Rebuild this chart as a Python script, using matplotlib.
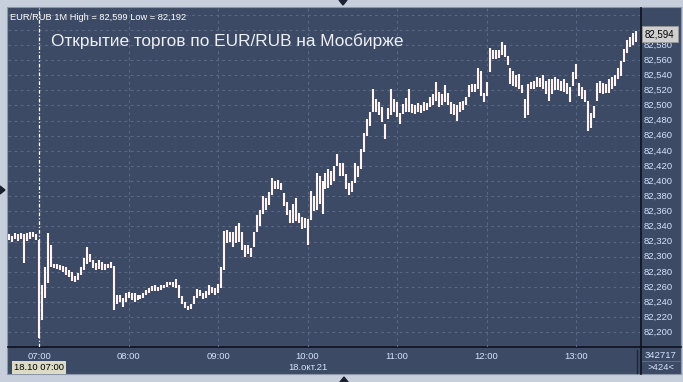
import numpy as np
import matplotlib
matplotlib.use('Agg')
import matplotlib.pyplot as plt
from matplotlib.colors import LinearSegmentedColormap
from matplotlib.patches import Rectangle, Polygon

plt.rcParams['font.family'] = ['Liberation Sans', 'DejaVu Sans']

# EUR/RUB, 18.10.2021, bars every 2 minutes, minutes counted from 07:00
bar_minutes = np.arange(-20, 401, 2)
low_pts = [322, 320, 323, 321, 324, 292, 321, 324, 326, 322,
           192, 216, 245, 265, 287, 285, 284, 282, 280, 276,
           273, 268, 266, 269, 276, 283, 290, 293, 285, 282,
           284, 283, 283, 285, 285, 230, 238, 240, 233, 240,
           245, 243, 240, 243, 244, 246, 250, 252, 254, 254,
           254, 256, 258, 260, 262, 260, 258, 246, 238, 232,
           230, 231, 238, 245, 248, 244, 246, 250, 252, 250,
           252, 258, 282, 318, 320, 313, 318, 320, 309, 300,
           303, 300, 313, 333, 340, 356, 362, 368, 382, 389,
           389, 388, 367, 355, 344, 345, 347, 344, 336, 338,
           316, 349, 360, 362, 370, 356, 389, 391, 395, 400,
           420, 407, 407, 390, 382, 386, 398, 405, 416, 438,
           460, 473, 491, 491, 487, 478, 456, 482, 487, 491,
           485, 476, 489, 491, 491, 490, 489, 491, 490, 493,
           494, 498, 500, 506, 498, 500, 504, 500, 489, 487,
           480, 492, 494, 500, 511, 518, 518, 522, 513, 504,
           513, 544, 562, 562, 563, 567, 564, 553, 529, 526,
           524, 522, 516, 484, 487, 522, 522, 524, 525, 522,
           515, 506, 515, 521, 521, 519, 518, 515, 504, 526,
           535, 512, 508, 504, 466, 470, 484, 506, 517, 515,
           517, 517, 522, 526, 535, 539, 557, 570, 577, 580,
           584]
high_pts = [330, 328, 331, 330, 332, 330, 331, 333, 333, 330,
            322, 262, 287, 331, 315, 291, 290, 289, 288, 286,
            283, 280, 275, 279, 286, 298, 313, 303, 296, 292,
            295, 293, 290, 291, 293, 288, 250, 250, 245, 252,
            253, 252, 252, 249, 250, 252, 256, 258, 261, 262,
            260, 262, 263, 266, 267, 266, 270, 262, 248, 240,
            235, 237, 248, 257, 256, 252, 255, 262, 260, 258,
            264, 287, 334, 335, 333, 333, 340, 344, 333, 316,
            315, 312, 333, 355, 362, 380, 378, 385, 404, 400,
            402, 398, 384, 372, 362, 370, 378, 358, 353, 351,
            350, 387, 380, 411, 407, 400, 411, 416, 414, 420,
            436, 424, 424, 410, 398, 400, 424, 420, 442, 464,
            482, 491, 522, 509, 505, 498, 476, 496, 522, 509,
            505, 490, 502, 510, 522, 502, 500, 503, 500, 504,
            503, 511, 515, 531, 518, 515, 527, 516, 505, 502,
            500, 505, 506, 511, 527, 529, 528, 549, 545, 516,
            531, 576, 573, 574, 573, 584, 580, 566, 549, 545,
            540, 542, 527, 509, 529, 531, 532, 538, 536, 540,
            532, 535, 535, 537, 535, 532, 535, 530, 524, 544,
            555, 530, 524, 520, 506, 490, 499, 530, 533, 530,
            528, 535, 537, 540, 550, 559, 575, 586, 590, 596,
            599]
lows = 82 + np.array(low_pts) / 1000
highs = 82 + np.array(high_pts) / 1000

hour_minutes = [0, 60, 120, 180, 240, 300, 360]
hour_labels = ['07:00', '08:00', '09:00', '10:00', '11:00', '12:00', '13:00']
price_levels = np.arange(82200, 82601, 20) / 1000
last_price = 82.594

W, H = 683, 382
fig = plt.figure(figsize=(W / 100, H / 100), dpi=100)
fig.patch.set_facecolor('#c6cfdb')

# pixel-space background layer
bg = fig.add_axes([0, 0, 1, 1])
bg.set_xlim(0, W)
bg.set_ylim(H, 0)
bg.axis('off')
bg.add_patch(Rectangle((7, 7), 674, 367, facecolor='#3d4a65', edgecolor='#8c97a9', lw=0.8))
grad = LinearSegmentedColormap.from_list('panel', ['#3f4b68', '#2d3954'])
bg.imshow(np.linspace(0, 1, 200).reshape(-1, 1), cmap=grad, extent=[8, 681, 347, 8], aspect='auto')
bg.plot([8, 681], [347, 347], color='#0d1220', lw=1.2)
bg.plot([640.5, 640.5], [8, 374], color='#0d1220', lw=1.2)
bg.plot([636.5, 636.5], [350, 373], color='#1f2637', lw=1)
bg.plot([642, 680], [361, 361], color='#5e6a84', lw=0.8)
for tri in ([[339, 0], [347, 0], [343, 5]], [[0, 186], [0, 194], [5, 190]], [[340, 382], [348, 382], [344, 377]]):
    bg.add_patch(Polygon(tri, closed=True, color='#1a2030'))

# main chart
ax = fig.add_axes([8 / W, (H - 347) / H, (640 - 8) / W, (347 - 8) / H])
ax.set_facecolor('none')
ax.set_xlim(-20.8, 402.8)
ax.set_ylim(82.1806, 82.6289)
for s in ax.spines.values():
    s.set_visible(False)
ax.set_xticks([])
ax.set_yticks([])

grid_kw = dict(color='#5b6885', lw=0.8, linestyle=(0, (2.5, 3)))
for p in np.arange(82200, 82621, 20) / 1000:
    ax.axhline(p, **grid_kw)
for m in hour_minutes[1:]:
    ax.axvline(m, **grid_kw)
ax.axvline(0, color='white', lw=0.9, linestyle=(0, (3, 1.5, 1, 1.5)))

ax.vlines(bar_minutes, lows, highs, color='#fff3f3', lw=1.5)

ax.text(2 / 632, 0.985, 'EUR/RUB 1M High = 82,599 Low = 82,192', transform=ax.transAxes,
        color='white', fontsize=6.7, ha='left', va='top')
ax.text(43 / 632, 0.902, 'Открытие торгов по EUR/RUB на Мосбирже', transform=ax.transAxes,
        color='#eef0f6', fontsize=12.4, ha='left', va='center')

# price scale
ytr = ax.get_yaxis_transform()
for p in price_levels:
    ax.text(1.005, p, f'{p:.3f}'.replace('.', ','), transform=ytr, color='#d6e2ff',
            fontsize=6.8, ha='left', va='center', clip_on=False)
ax.text(1.008, last_price, '82,594', transform=ytr, color='black', fontsize=7, ha='left', va='center',
        clip_on=False, zorder=5,
        bbox=dict(boxstyle='square,pad=0.3', facecolor='#cfcfcf', edgecolor='#9a9a9a', lw=0.6))

# time scale
xtr = ax.get_xaxis_transform()
for m, lab in zip(hour_minutes, hour_labels):
    ax.text(m, -0.027, lab, transform=xtr, color='#d6e2ff', fontsize=6.8,
            ha='center', va='center', clip_on=False)
ax.text(180, -0.061, '18.окт.21', transform=xtr, color='#d6e2ff', fontsize=6.8,
        ha='center', va='center', clip_on=False)
ax.text(0, -0.061, '18.10 07:00', transform=xtr, color='black', fontsize=6.8,
        ha='center', va='center', clip_on=False,
        bbox=dict(boxstyle='square,pad=0.2', facecolor='#dcdcc6', edgecolor='none'))

bg.text(661, 355, '342717', color='#d6e2ff', fontsize=6.8, ha='center', va='center')
bg.text(661, 367, '>424<', color='#d6e2ff', fontsize=6.8, ha='center', va='center')

fig.savefig('out.png', dpi=100, facecolor=fig.get_facecolor())
